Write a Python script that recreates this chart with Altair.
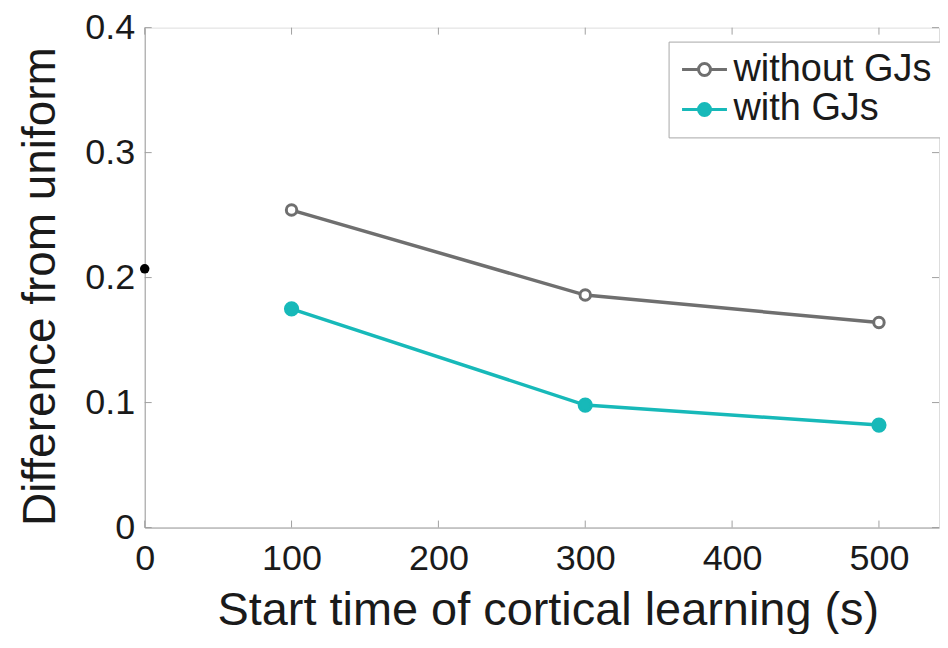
import altair as alt
import pandas as pd

# ---- data ----
start_times = [100, 300, 500]
without_gjs = [0.254, 0.186, 0.164]
with_gjs = [0.175, 0.098, 0.082]
series_names = ["without GJs", "with GJs"]
baseline_x = [0]
baseline_y = [0.207]
x_ticks = [0, 100, 200, 300, 400, 500]
y_ticks = [0, 0.1, 0.2, 0.3, 0.4]

GRAY = "#6f6f6f"
TEAL = "#17b9b9"
AXIS = "#a0a0a0"
FONT = "Liberation Sans"

W, H = 796, 501
XMAX = 540.9

rows = []
for t, v in zip(start_times, without_gjs):
    rows.append({"t": t, "v": v, "series": series_names[0]})
for t, v in zip(start_times, with_gjs):
    rows.append({"t": t, "v": v, "series": series_names[1]})
df = pd.DataFrame(rows)
base_df = pd.DataFrame({"t": baseline_x, "v": baseline_y})
xt = pd.DataFrame({"t": x_ticks})
yt = pd.DataFrame({"v": y_ticks})

xscale = alt.Scale(domain=[0, XMAX], nice=False, zero=False)
yscale = alt.Scale(domain=[0, 0.4], nice=False)

# legend symbol: short line with a circle in its middle (unit = 15 px)
sym = ("M-1.5,0L-0.4,0M0.4,0L1.5,0M-0.4,0A0.4,0.4,0,1,0,0.4,0"
       "A0.4,0.4,0,1,0,-0.4,0Z")
legend = alt.Legend(
    title=None, orient="none", legendX=525, legendY=14,
    symbolType=sym, symbolSize=900, symbolStrokeWidth=3,
    labelFont=FONT, labelFontSize=38, labelColor="#1a1a1a", labelLimit=400,
    strokeColor="#a8a8a8", fillColor="white", padding=9,
    rowPadding=2, labelOffset=10, symbolOffset=8,
)

xaxis = alt.Axis(
    title="Start time of cortical learning (s)", values=x_ticks,
    grid=False, tickSize=0, domainColor=AXIS, labelPadding=14,
    labelFlush=False,
    labelFont=FONT, labelFontSize=36, labelColor="#1a1a1a",
    titleFont=FONT, titleFontSize=47, titleFontWeight="normal",
    titleColor="#1a1a1a", titlePadding=11, titleX=404,
)
yaxis = alt.Axis(
    title="Difference from uniform", values=y_ticks,
    labelExpr="datum.value == 0 ? '0' : format(datum.value, '.1f')",
    grid=False, tickSize=0, domainColor=AXIS, labelPadding=10,
    labelFlush=False,
    labelFont=FONT, labelFontSize=36, labelColor="#1a1a1a",
    titleFont=FONT, titleFontSize=46, titleFontWeight="normal",
    titleColor="#1a1a1a", titlePadding=20, titleY=259,
)

color = alt.Color("series:N", scale=alt.Scale(domain=series_names, range=[GRAY, TEAL]),
                  legend=legend)
fill = alt.Fill("series:N", scale=alt.Scale(domain=series_names, range=["white", TEAL]),
                legend=legend)

lines = alt.Chart(df).mark_line(strokeWidth=3.5).encode(
    x=alt.X("t:Q", scale=xscale, axis=xaxis),
    y=alt.Y("v:Q", scale=yscale, axis=yaxis),
    color=color,
    detail="series:N",
)
points = alt.Chart(df).mark_point(filled=False, strokeWidth=3, opacity=1).encode(
    x=alt.X("t:Q", scale=xscale),
    y=alt.Y("v:Q", scale=yscale),
    color=color,
    fill=fill,
    size=alt.condition("datum.series == 'with GJs'", alt.value(150), alt.value(110)),
)
dot = alt.Chart(base_df).mark_circle(color="black", size=90, opacity=1).encode(
    x=alt.X("t:Q", scale=xscale),
    y=alt.Y("v:Q", scale=yscale),
)

TK = 7
tick_style = dict(color=AXIS, strokeWidth=1)
bt = alt.Chart(xt).mark_rule(**tick_style).encode(
    x=alt.X("t:Q", scale=xscale), y=alt.value(H), y2=alt.value(H - TK))
tt = alt.Chart(xt).mark_rule(**tick_style).encode(
    x=alt.X("t:Q", scale=xscale), y=alt.value(0), y2=alt.value(TK))
lt = alt.Chart(yt).mark_rule(**tick_style).encode(
    y=alt.Y("v:Q", scale=yscale), x=alt.value(0), x2=alt.value(TK))
rt = alt.Chart(yt).mark_rule(**tick_style).encode(
    y=alt.Y("v:Q", scale=yscale), x=alt.value(W), x2=alt.value(W - TK))

chart = alt.layer(bt, tt, lt, rt, lines, points, dot).properties(
    width=W, height=H,
    autosize=alt.AutoSizeParams(type="none"),
    padding={"left": 137, "top": 19, "right": 1, "bottom": 106},
).configure_view(stroke=AXIS, strokeWidth=1).configure(background="white")

chart.save("out.html", embed_options={"renderer": "svg", "actions": False})
